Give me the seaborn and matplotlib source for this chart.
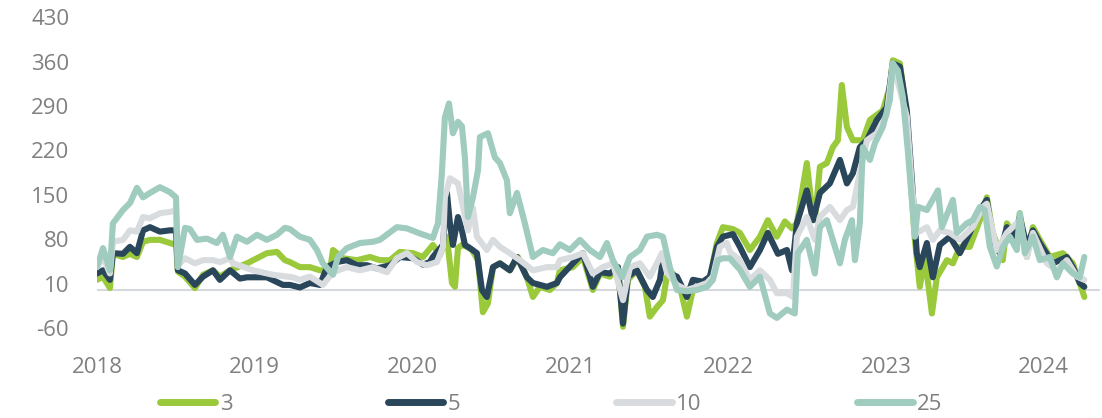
import numpy as np
import pandas as pd
import seaborn as sns
import matplotlib.pyplot as plt
from matplotlib.lines import Line2D

# spread series (decimal year, value)
s3 = [(2018.000, 16), (2018.038, 21), (2018.082, 3), (2018.101, 57), (2018.165, 52), (2018.209, 57),
      (2018.253, 52), (2018.292, 76), (2018.336, 79), (2018.399, 79), (2018.463, 74), (2018.501, 71),
      (2018.513, 29), (2018.558, 21), (2018.621, 3), (2018.672, 24), (2018.735, 31), (2018.779, 21),
      (2018.843, 31), (2018.951, 42), (2019.077, 58), (2019.141, 60), (2019.191, 47), (2019.223, 44),
      (2019.286, 36), (2019.350, 36), (2019.413, 31), (2019.477, 31), (2019.496, 63), (2019.559, 50),
      (2019.648, 47), (2019.730, 52), (2019.793, 47), (2019.857, 47), (2019.920, 60), (2020.003, 58),
      (2020.066, 52), (2020.129, 71), (2020.174, 55), (2020.218, 84), (2020.250, 11), (2020.269, 5),
      (2020.288, 66), (2020.313, 71), (2020.345, 68), (2020.377, 63), (2020.415, 47), (2020.446, -35),
      (2020.478, -21), (2020.510, 36), (2020.554, 42), (2020.617, 31), (2020.668, 52), (2020.725, 20),
      (2020.763, -11), (2020.807, 5), (2020.871, 0), (2020.915, 11), (2020.934, 31), (2021.016, 36),
      (2021.080, 52), (2021.143, 0), (2021.188, 26), (2021.251, 21), (2021.302, 36), (2021.334, -58),
      (2021.365, 16), (2021.422, 31), (2021.473, 5), (2021.504, -42), (2021.549, -27), (2021.587, -16),
      (2021.612, 21), (2021.650, 26), (2021.695, 5), (2021.739, -42), (2021.777, 0), (2021.840, 8),
      (2021.885, 19), (2021.929, 74), (2021.967, 99), (2022.030, 96), (2022.075, 90), (2022.138, 63),
      (2022.202, 84), (2022.252, 110), (2022.309, 84), (2022.360, 108), (2022.405, 97), (2022.436, 105),
      (2022.499, 200), (2022.531, 131), (2022.550, 110), (2022.582, 194), (2022.626, 200), (2022.664, 225),
      (2022.696, 236), (2022.721, 323), (2022.753, 257), (2022.791, 236), (2022.854, 236), (2022.899, 268),
      (2022.943, 276), (2022.981, 283), (2023.025, 320), (2023.044, 362), (2023.089, 357), (2023.120, 299),
      (2023.152, 194), (2023.184, 79), (2023.215, 5), (2023.247, 52), (2023.292, -37), (2023.323, 20),
      (2023.387, 47), (2023.425, 42), (2023.469, 68), (2023.532, 68), (2023.596, 110), (2023.640, 146),
      (2023.678, 90), (2023.741, 47), (2023.767, 105), (2023.830, 79), (2023.849, 121), (2023.894, 52),
      (2023.932, 99), (2023.976, 79), (2024.039, 52), (2024.122, 58), (2024.185, 42), (2024.229, 11),
      (2024.258, -11)]

s5 = [(2018.000, 26), (2018.038, 31), (2018.082, 16), (2018.101, 58), (2018.165, 57), (2018.209, 68),
      (2018.253, 58), (2018.292, 94), (2018.336, 99), (2018.399, 92), (2018.463, 94), (2018.501, 94),
      (2018.513, 31), (2018.558, 26), (2018.621, 8), (2018.672, 21), (2018.735, 31), (2018.779, 16),
      (2018.843, 31), (2018.906, 18), (2018.951, 20), (2019.077, 20), (2019.179, 8), (2019.223, 8),
      (2019.286, 4), (2019.350, 11), (2019.413, 8), (2019.458, 36), (2019.521, 44), (2019.584, 47),
      (2019.648, 39), (2019.711, 39), (2019.774, 34), (2019.857, 39), (2019.920, 52), (2020.003, 50),
      (2020.066, 40), (2020.110, 44), (2020.129, 52), (2020.193, 71), (2020.218, 153), (2020.237, 105),
      (2020.256, 71), (2020.288, 115), (2020.313, 94), (2020.332, 71), (2020.364, 66), (2020.408, 58),
      (2020.440, 0), (2020.471, -11), (2020.510, 36), (2020.554, 42), (2020.617, 31), (2020.662, 52),
      (2020.725, 20), (2020.763, 11), (2020.852, 5), (2020.915, 11), (2020.934, 20), (2021.016, 42),
      (2021.080, 58), (2021.143, 5), (2021.188, 28), (2021.251, 26), (2021.302, 36), (2021.334, -53),
      (2021.365, 21), (2021.422, 31), (2021.486, 0), (2021.523, -11), (2021.568, 16), (2021.587, 47),
      (2021.631, 26), (2021.676, 21), (2021.739, -11), (2021.777, 16), (2021.840, 13), (2021.885, 21),
      (2021.929, 68), (2021.967, 84), (2022.030, 88), (2022.075, 68), (2022.138, 36), (2022.202, 63),
      (2022.252, 90), (2022.316, 57), (2022.373, 63), (2022.405, 31), (2022.436, 105), (2022.499, 157),
      (2022.538, 110), (2022.582, 153), (2022.645, 168), (2022.709, 205), (2022.753, 168), (2022.791, 184),
      (2022.835, 225), (2022.880, 236), (2022.943, 268), (2023.006, 288), (2023.044, 357), (2023.089, 352),
      (2023.133, 283), (2023.165, 173), (2023.196, 58), (2023.215, 36), (2023.260, 74), (2023.298, 20),
      (2023.342, 71), (2023.406, 84), (2023.469, 58), (2023.532, 90), (2023.596, 126), (2023.640, 142),
      (2023.678, 79), (2023.722, 58), (2023.767, 99), (2023.805, 79), (2023.849, 115), (2023.894, 68),
      (2023.932, 94), (2023.976, 74), (2024.058, 42), (2024.147, 52), (2024.185, 36), (2024.229, 11),
      (2024.258, 5)]

s10 = [(2018.000, 36), (2018.038, 52), (2018.082, 26), (2018.101, 76), (2018.165, 79), (2018.209, 94),
       (2018.253, 92), (2018.292, 115), (2018.336, 113), (2018.399, 121), (2018.463, 123), (2018.501, 126),
       (2018.513, 39), (2018.558, 50), (2018.621, 42), (2018.672, 47), (2018.735, 47), (2018.779, 44),
       (2018.843, 50), (2018.862, 42), (2018.989, 31), (2019.115, 24), (2019.242, 20), (2019.286, 16),
       (2019.350, 21), (2019.432, 8), (2019.496, 28), (2019.584, 36), (2019.667, 31), (2019.749, 36),
       (2019.838, 28), (2019.901, 50), (2019.965, 58), (2020.028, 44), (2020.091, 39), (2020.155, 44),
       (2020.193, 68), (2020.205, 146), (2020.237, 176), (2020.288, 168), (2020.320, 131), (2020.351, 94),
       (2020.383, 129), (2020.408, 84), (2020.471, 63), (2020.510, 79), (2020.554, 68), (2020.617, 58),
       (2020.681, 47), (2020.763, 31), (2020.852, 36), (2020.915, 36), (2020.934, 47), (2021.016, 52),
       (2021.080, 58), (2021.143, 26), (2021.207, 36), (2021.270, 42), (2021.334, -16), (2021.378, 36),
       (2021.441, 42), (2021.504, 21), (2021.549, 42), (2021.580, 58), (2021.612, 28), (2021.676, 8),
       (2021.739, 0), (2021.802, 5), (2021.866, 11), (2021.904, 21), (2021.948, 68), (2021.992, 74),
       (2022.011, 60), (2022.075, 47), (2022.138, 16), (2022.202, 31), (2022.265, 16), (2022.309, -5),
       (2022.373, -5), (2022.411, -11), (2022.436, 84), (2022.499, 115), (2022.550, 79), (2022.582, 115),
       (2022.645, 131), (2022.709, 110), (2022.753, 126), (2022.791, 131), (2022.835, 184), (2022.880, 236),
       (2022.943, 247), (2023.006, 276), (2023.044, 357), (2023.133, 273), (2023.165, 163), (2023.196, 90),
       (2023.260, 99), (2023.298, 79), (2023.342, 94), (2023.406, 90), (2023.469, 79), (2023.551, 99),
       (2023.615, 131), (2023.640, 136), (2023.703, 63), (2023.767, 90), (2023.849, 110), (2023.894, 52),
       (2023.932, 90), (2024.020, 42), (2024.084, 31), (2024.147, 47), (2024.211, 21), (2024.258, 16)]

s25 = [(2018.000, 36), (2018.038, 66), (2018.082, 31), (2018.101, 105), (2018.165, 126), (2018.209, 137),
       (2018.253, 161), (2018.292, 146), (2018.336, 153), (2018.399, 162), (2018.463, 154), (2018.501, 146),
       (2018.513, 36), (2018.558, 98), (2018.589, 96), (2018.634, 79), (2018.697, 81), (2018.760, 74),
       (2018.798, 87), (2018.843, 52), (2018.887, 84), (2018.951, 76), (2019.014, 87), (2019.077, 79),
       (2019.141, 87), (2019.191, 98), (2019.223, 96), (2019.286, 84), (2019.350, 79), (2019.394, 63),
       (2019.432, 42), (2019.496, 24), (2019.527, 52), (2019.584, 66), (2019.667, 74), (2019.749, 76),
       (2019.793, 79), (2019.901, 99), (2019.965, 97), (2020.047, 89), (2020.129, 82), (2020.161, 105),
       (2020.186, 184), (2020.205, 272), (2020.231, 294), (2020.256, 247), (2020.288, 265), (2020.313, 258),
       (2020.332, 209), (2020.351, 115), (2020.383, 146), (2020.415, 189), (2020.427, 241), (2020.478, 247),
       (2020.522, 209), (2020.554, 200), (2020.598, 173), (2020.617, 121), (2020.662, 153), (2020.712, 105),
       (2020.763, 52), (2020.826, 63), (2020.890, 58), (2020.934, 72), (2020.997, 63), (2021.061, 79),
       (2021.124, 63), (2021.188, 52), (2021.232, 74), (2021.270, 47), (2021.327, 20), (2021.378, 52),
       (2021.441, 63), (2021.486, 84), (2021.549, 87), (2021.587, 84), (2021.631, 36), (2021.676, 0),
       (2021.739, -2), (2021.802, 0), (2021.866, 5), (2021.904, 16), (2021.935, 47), (2021.967, 50),
       (2022.011, 50), (2022.075, 32), (2022.138, 5), (2022.202, 21), (2022.265, -37), (2022.309, -44),
       (2022.373, -31), (2022.423, -37), (2022.442, 58), (2022.499, 79), (2022.550, 26), (2022.582, 99),
       (2022.626, 110), (2022.664, 79), (2022.709, 42), (2022.740, 79), (2022.785, 110), (2022.804, 47),
       (2022.835, 105), (2022.854, 225), (2022.899, 205), (2022.930, 231), (2022.981, 257), (2023.025, 299),
       (2023.044, 357), (2023.076, 346), (2023.108, 304), (2023.139, 220), (2023.165, 142), (2023.184, 84),
       (2023.203, 131), (2023.260, 126), (2023.330, 157), (2023.355, 99), (2023.425, 142), (2023.450, 90),
       (2023.513, 105), (2023.551, 110), (2023.596, 131), (2023.627, 126), (2023.659, 68), (2023.703, 37),
       (2023.741, 68), (2023.786, 84), (2023.830, 63), (2023.849, 121), (2023.881, 58), (2023.932, 84),
       (2023.976, 47), (2024.039, 52), (2024.084, 20), (2024.122, 42), (2024.185, 26), (2024.229, 20),
       (2024.258, 52)]

series_names = ["3", "5", "10", "25"]
colors = ["#9aca3c", "#29465b", "#d9dcdf", "#a0cbbf"]
y_ticks = [-60, 10, 80, 150, 220, 290, 360, 430]
x_ticks = [2018, 2019, 2020, 2021, 2022, 2023, 2024]

frames = []
for name, s in zip(series_names, [s3, s5, s10, s25]):
    d = pd.DataFrame(s, columns=["year", "value"])
    d["series"] = name
    frames.append(d)
df = pd.concat(frames, ignore_index=True)

sns.set_style("white")
plt.rcParams["font.family"] = ["Open Sans", "DejaVu Sans"]
plt.rcParams["axes.unicode_minus"] = False

fig = plt.figure(figsize=(11.02, 4.18), dpi=100)
ax = fig.add_axes([0.088, 0.200, 0.910, 0.759])

ax.axhline(0, color="#d5d9de", lw=1.5, zorder=1)
sns.lineplot(data=df, x="year", y="value", hue="series", hue_order=series_names,
             palette=dict(zip(series_names, colors)), estimator=None, sort=False,
             lw=4.4, legend=False, ax=ax, zorder=2)
for line in ax.get_lines():
    line.set_solid_joinstyle("round")
    line.set_solid_capstyle("round")

ax.set_xlim(2018.0, 2024.356)
ax.set_ylim(-70, 430)
ax.set_yticks(y_ticks)
ax.set_xticks(x_ticks)
ax.set_xticklabels([str(x) for x in x_ticks])
ax.tick_params(axis="y", length=0, pad=20, labelsize=16, labelcolor="#808080")
ax.tick_params(axis="x", length=0, pad=16, labelsize=16, labelcolor="#808080")
ax.set_xlabel("")
ax.set_ylabel("")
for sp in ax.spines.values():
    sp.set_visible(False)

handles = [Line2D([0], [0], color=c, lw=5, solid_capstyle="round") for c in colors]
fig.legend(handles, series_names, loc="center", bbox_to_anchor=(0.5, 1 - 404 / 418),
           ncol=4, frameon=False, fontsize=16, labelcolor="#808080",
           handlelength=2.5, handletextpad=0.2, columnspacing=7.0)

fig.savefig("out.png", dpi=100)
